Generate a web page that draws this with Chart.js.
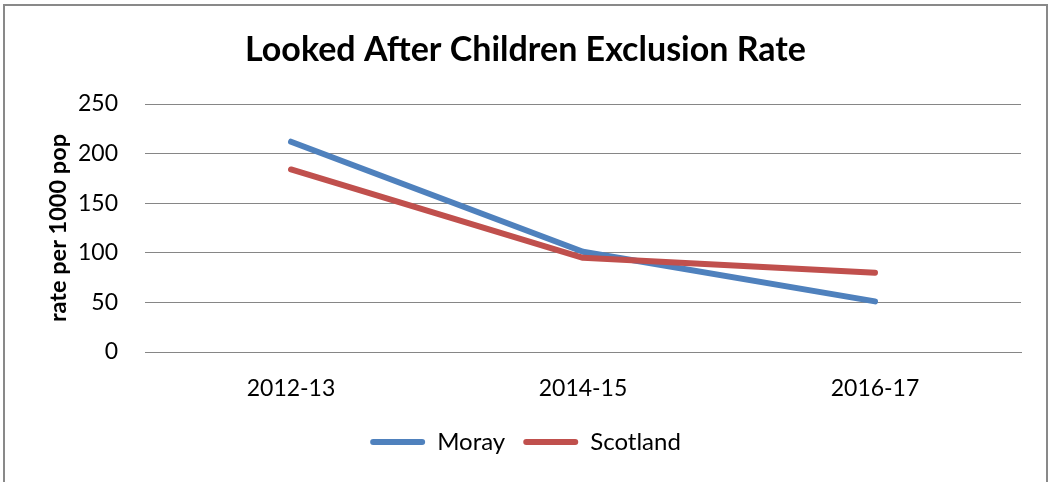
<!DOCTYPE html>
<html>
<head>
<meta charset="utf-8">
<title>Looked After Children Exclusion Rate</title>
<script src="https://cdn.jsdelivr.net/npm/chart.js@4"></script>
<style>
  html, body { margin: 0; padding: 0; background: #fff; }
  #wrap { position: relative; width: 1051px; height: 482px; overflow: hidden; }
  #frame {
    position: absolute; left: 3px; top: 4px; width: 1045px; height: 500px;
    border: 2px solid #898989; box-sizing: border-box;
  }
  canvas { position: absolute; left: 0; top: 0; }
</style>
</head>
<body>
<div id="wrap">
  <div id="frame"></div>
  <canvas id="chart" width="1051" height="482"></canvas>
</div>
<script>
// Exclusion rate per 1000 looked-after children
const years = ['2012-13', '2014-15', '2016-17'];
const moray = [212, 101, 51];
const scotland = [184, 95, 80];
const yTicks = [0, 50, 100, 150, 200, 250];

const FONT = 'Lato, "Open Sans", "DejaVu Sans", sans-serif';

const ctx = document.getElementById('chart');

new Chart(ctx, {
  type: 'line',
  data: {
    labels: years,
    datasets: [
      {
        label: 'Moray',
        data: moray,
        borderColor: '#4F81BD',
        backgroundColor: '#4F81BD',
        borderWidth: 6,
        borderCapStyle: 'round',
        borderJoinStyle: 'round',
        pointRadius: 0,
        tension: 0,
        order: 1   // Scotland line sits on top where they cross
      },
      {
        label: 'Scotland',
        data: scotland,
        borderColor: '#C0504D',
        backgroundColor: '#C0504D',
        borderWidth: 6,
        borderCapStyle: 'round',
        borderJoinStyle: 'round',
        pointRadius: 0,
        tension: 0,
        order: 0
      }
    ]
  },
  options: {
    responsive: false,
    animation: false,
    layout: { padding: { top: 10, left: 30, right: 30, bottom: 18 } },
    plugins: {
      title: {
        display: true,
        text: 'Looked After Children Exclusion Rate',
        color: '#000',
        font: { family: FONT, size: 34, weight: 'bold', lineHeight: 1.2 },
        padding: { top: 19.6, bottom: 33.6 }
      },
      legend: {
        position: 'bottom',
        labels: {
          color: '#000',
          font: { family: FONT, size: 24 },
          boxWidth: 55,
          boxHeight: 6,
          padding: 18,
          useBorderRadius: true,
          borderRadius: 3,
          sort: (a, b) => a.datasetIndex - b.datasetIndex,
          generateLabels(chart) {
            const items = Chart.defaults.plugins.legend.labels.generateLabels(chart);
            items.forEach(it => { it.lineWidth = 0; });
            return items;
          }
        }
      },
      tooltip: { enabled: false }
    },
    scales: {
      x: {
        offset: true,
        grid: { display: false, drawTicks: false },
        border: { display: true, color: '#868686', width: 1 },
        ticks: { color: '#000', font: { family: FONT, size: 23 }, padding: 23, maxRotation: 0 },
        afterFit(scale) { scale.height = 60; }
      },
      y: {
        min: 0,
        max: 250,
        afterBuildTicks(scale) { scale.ticks = yTicks.map(v => ({ value: v })); },
        grid: { color: '#868686', lineWidth: 1, drawTicks: false },
        border: { display: false },
        ticks: { color: '#000', font: { family: FONT, size: 23 }, padding: 27 },
        title: {
          display: true,
          text: 'rate per 1000 pop',
          color: '#000',
          font: { family: FONT, size: 23.5, weight: 'bold', lineHeight: 1.2 },
          padding: { top: 14, bottom: 0 }
        },
        afterFit(scale) { scale.width = 115; }
      }
    }
  }
});
</script>
</body>
</html>
